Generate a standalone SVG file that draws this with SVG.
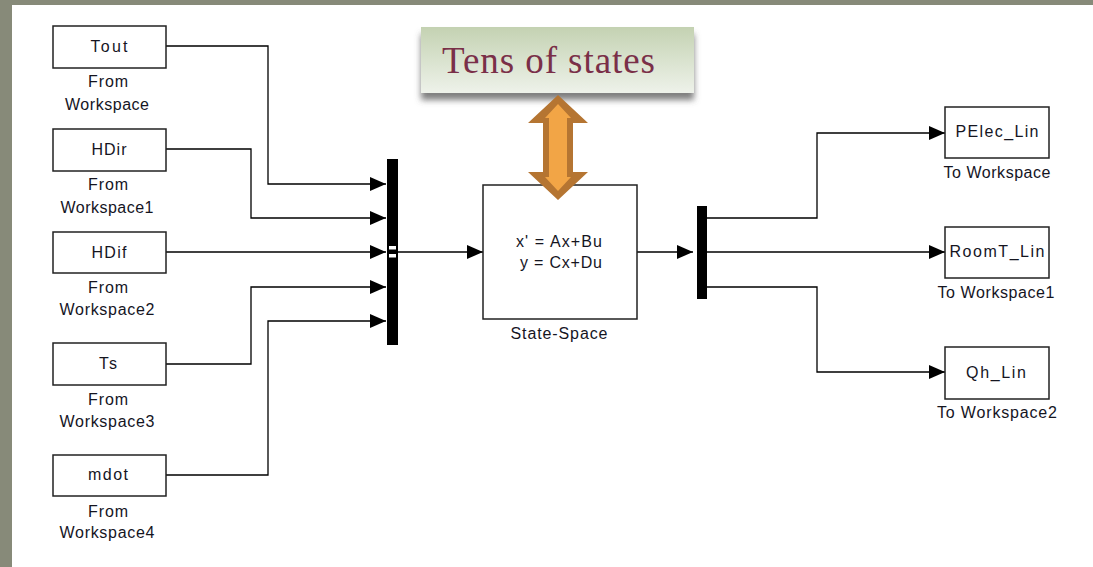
<svg xmlns="http://www.w3.org/2000/svg" width="1093" height="567" viewBox="0 0 1093 567">
  <defs>
    <marker id="arr" markerUnits="userSpaceOnUse" markerWidth="17" markerHeight="14" refX="16" refY="7" orient="auto">
      <path d="M0,0 L16,7 L0,14 z" fill="#000"/>
    </marker>
    <linearGradient id="callout" x1="0" y1="0" x2="0" y2="1">
      <stop offset="0" stop-color="#c4d2b2"/>
      <stop offset="1" stop-color="#eef2ea"/>
    </linearGradient>
    <filter id="shadow" x="-10%" y="-20%" width="120%" height="160%">
      <feDropShadow dx="0" dy="7" stdDeviation="3" flood-color="#555" flood-opacity="0.75"/>
    </filter>
  </defs>
  <style>
    .blk { fill: #fff; stroke: #222; stroke-width: 1.5; }
    .wire { fill: none; stroke: #000; stroke-width: 1.3; }
    .bar { fill: #000; }
    text { font-family: "Liberation Sans", Arial, sans-serif; font-size: 16px; fill: #15151f; text-anchor: middle; }
    .title { font-family: "Liberation Serif", "Times New Roman", serif; font-size: 37px; fill: #7a2f48; text-anchor: start; }
  </style>

  <!-- slide frame and canvas -->
  <rect x="0" y="0" width="1093" height="567" fill="#878a79"/>
  <rect x="12" y="5" width="1081" height="562" fill="#fff"/>

  <!-- signal lines -->
  <g id="connectors">
    <polyline class="wire" points="166,46 268,46 268,184 386,184" marker-end="url(#arr)"/>
    <polyline class="wire" points="166,149 251,149 251,218 386,218" marker-end="url(#arr)"/>
    <polyline class="wire" points="166,252 386,252" marker-end="url(#arr)"/>
    <polyline class="wire" points="166,364 251,364 251,287 386,287" marker-end="url(#arr)"/>
    <polyline class="wire" points="166,475 268,475 268,321 386,321" marker-end="url(#arr)"/>
    <polyline class="wire" points="398,252 483,252" marker-end="url(#arr)"/>
    <polyline class="wire" points="637,252 693,252" marker-end="url(#arr)"/>
    <polyline class="wire" points="707,218 817,218 817,133 945,133" marker-end="url(#arr)"/>
    <polyline class="wire" points="707,252 945,252" marker-end="url(#arr)"/>
    <polyline class="wire" points="707,287 817,287 817,372 945,372" marker-end="url(#arr)"/>
  </g>

  <!-- From Workspace sources -->
  <g id="src-tout">
    <rect class="blk" x="53" y="26" width="113" height="42"/>
    <text x="109" y="52" textLength="37">Tout</text>
    <text x="108" y="87" textLength="40">From</text>
    <text x="107" y="110" textLength="84">Workspace</text>
  </g>
  <g id="src-hdir">
    <rect class="blk" x="53" y="129" width="113" height="42"/>
    <text x="109" y="155" textLength="35">HDir</text>
    <text x="108" y="190" textLength="40">From</text>
    <text x="107" y="213" textLength="93">Workspace1</text>
  </g>
  <g id="src-hdif">
    <rect class="blk" x="53" y="232" width="113" height="41"/>
    <text x="109" y="258" textLength="35">HDif</text>
    <text x="108" y="293" textLength="40">From</text>
    <text x="107" y="315" textLength="95">Workspace2</text>
  </g>
  <g id="src-ts">
    <rect class="blk" x="53" y="343" width="113" height="42"/>
    <text x="108" y="369" textLength="18">Ts</text>
    <text x="108" y="405" textLength="40">From</text>
    <text x="107" y="427" textLength="95">Workspace3</text>
  </g>
  <g id="src-mdot">
    <rect class="blk" x="53" y="455" width="113" height="41"/>
    <text x="108" y="480" textLength="40">mdot</text>
    <text x="108" y="517" textLength="40">From</text>
    <text x="107" y="538" textLength="95">Workspace4</text>
  </g>

  <!-- Mux -->
  <g id="mux">
    <rect class="bar" x="387" y="159" width="11" height="186"/>
    <rect x="389" y="246" width="7" height="3.5" fill="#fff"/>
    <rect x="389" y="254" width="7" height="3.5" fill="#fff"/>
  </g>

  <!-- State-Space block -->
  <g id="state-space">
    <rect class="blk" x="483" y="185" width="154" height="134"/>
    <text x="559" y="247" textLength="86">x' = Ax+Bu</text>
    <text x="561" y="268" textLength="82">y = Cx+Du</text>
    <text x="559" y="339" textLength="97">State-Space</text>
  </g>

  <!-- Demux -->
  <g id="demux">
    <rect class="bar" x="697" y="206" width="10" height="93"/>
  </g>

  <!-- To Workspace sinks -->
  <g id="sink-pelec">
    <rect class="blk" x="945" y="107" width="104" height="51"/>
    <text x="997" y="137" textLength="83">PElec_Lin</text>
    <text x="997" y="178" textLength="107">To Workspace</text>
  </g>
  <g id="sink-roomt">
    <rect class="blk" x="945" y="227" width="104" height="51"/>
    <text x="997" y="257" textLength="95">RoomT_Lin</text>
    <text x="996" y="298" textLength="117">To Workspace1</text>
  </g>
  <g id="sink-qh">
    <rect class="blk" x="945" y="347" width="104" height="52"/>
    <text x="996" y="378" textLength="60">Qh_Lin</text>
    <text x="997" y="418" textLength="120">To Workspace2</text>
  </g>

  <!-- Callout with double-headed arrow -->
  <g id="callout-box">
    <rect x="421" y="27" width="273" height="66" fill="url(#callout)" filter="url(#shadow)"/>
    <text class="title" x="442" y="73" textLength="213">Tens of states</text>
  </g>
  <g id="callout-arrow">
    <polygon points="558,95 588,123 573,123 573,172 588,172 558,200 528,172 543,172 543,123 528,123" fill="#b57532"/>
    <polygon points="558,104 571,118 567,118 567,177 571,177 558,191 545,177 549,177 549,118 545,118" fill="#f2a546"/>
  </g>
</svg>
